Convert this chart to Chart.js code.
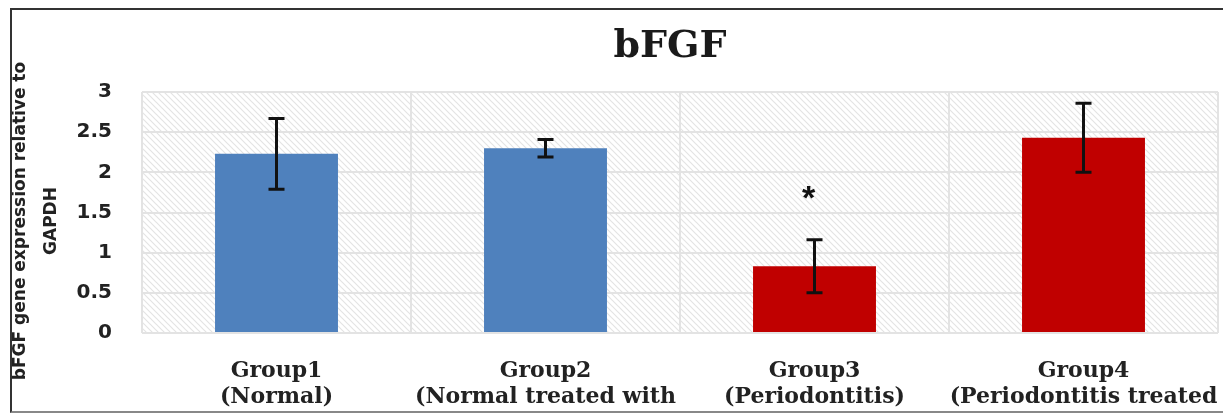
<!DOCTYPE html>
<html>
<head>
<meta charset="utf-8">
<script src="https://cdn.jsdelivr.net/npm/chart.js@4.4.1/dist/chart.umd.min.js"></script>
<style>
  html, body { margin: 0; padding: 0; background: #fff; overflow: hidden; }
  #wrap { position: absolute; left: 0; top: 0; width: 1223px; height: 413px; }
  #frame { position: absolute; left: 10px; top: 8px; width: 1300px; height: 401px;
           border-left: 2px solid #333; border-top: 2px solid #333; border-bottom: 2px solid #888;
           pointer-events: none; }
</style>
</head>
<body>
<div id="wrap"><canvas id="bfgfChart" width="1223" height="413"></canvas></div>
<div id="frame"></div>
<script>
const categories = [
    ['Group1', '(Normal)'],
    ['Group2', '(Normal treated with'],
    ['Group3', '(Periodontitis)'],
    ['Group4', '(Periodontitis treated']
];
const means = [2.23, 2.30, 0.83, 2.43];
const errors = [0.44, 0.11, 0.33, 0.43];
const barColors = ['#4f81bd', '#4f81bd', '#c00000', '#c00000'];
const markers = ['', '', '*', ''];
const markerValues = [null, null, 1.74, null];
const chartTitle = 'bFGF';
const yTitle = ['bFGF gene expression relative to', 'GAPDH'];

// hatched background like the original
function makePattern(ctx) {
    const p = document.createElement('canvas');
    p.width = 6; p.height = 6;
    const pc = p.getContext('2d');
    pc.fillStyle = '#ffffff';
    pc.fillRect(0, 0, 6, 6);
    pc.strokeStyle = '#e4e4e4';
    pc.lineWidth = 1.2;
    pc.beginPath();
    pc.moveTo(0, 0); pc.lineTo(6, 6);
    pc.moveTo(-3, 3); pc.lineTo(3, 9);
    pc.moveTo(3, -3); pc.lineTo(9, 3);
    pc.stroke();
    return ctx.createPattern(p, 'repeat');
}

const extras = {
    id: 'extras',
    beforeDraw(chart) {
        const ctx = chart.ctx;
        const a = chart.chartArea;
        ctx.save();
        ctx.fillStyle = makePattern(ctx);
        ctx.fillRect(a.left, a.top, a.right - a.left, a.bottom - a.top);
        ctx.restore();
    },
    afterDatasetsDraw(chart) {
        const ctx = chart.ctx;
        const x = chart.scales.x;
        const y = chart.scales.y;
        ctx.save();
        ctx.strokeStyle = '#111';
        ctx.lineWidth = 3;
        means.forEach((m, i) => {
            const cx = x.getPixelForValue(i);
            const top = y.getPixelForValue(m + errors[i]);
            const bot = y.getPixelForValue(m - errors[i]);
            ctx.beginPath();
            ctx.moveTo(cx, top); ctx.lineTo(cx, bot);
            ctx.moveTo(cx - 8, top); ctx.lineTo(cx + 8, top);
            ctx.moveTo(cx - 8, bot); ctx.lineTo(cx + 8, bot);
            ctx.stroke();
        });
        // significance marks
        ctx.fillStyle = '#111';
        ctx.font = 'bold 34px "Liberation Sans", Arial, sans-serif';
        ctx.textAlign = 'center';
        ctx.textBaseline = 'middle';
        markers.forEach((s, i) => {
            if (!s) return;
            ctx.fillText(s, x.getPixelForValue(i) - 6, y.getPixelForValue(markerValues[i]) + 6);
        });
        ctx.restore();
    },
    afterDraw(chart) {
        const ctx = chart.ctx;
        ctx.save();
        // title
        ctx.fillStyle = '#1a1a1a';
        ctx.font = 'bold 38px "DejaVu Serif", serif';
        ctx.textAlign = 'center';
        ctx.textBaseline = 'alphabetic';
        ctx.fillText(chartTitle, 670, 57);
        // y axis title, two rotated lines
        ctx.fillStyle = '#222';
        ctx.font = 'bold 17px "DejaVu Sans", sans-serif';
        ctx.textBaseline = 'middle';
        [21, 52].forEach((lx, k) => {
            ctx.save();
            ctx.translate(lx, 221);
            ctx.rotate(-Math.PI / 2);
            ctx.fillText(yTitle[k], 0, 0);
            ctx.restore();
        });
        ctx.restore();
    }
};

const ctx = document.getElementById('bfgfChart').getContext('2d');
const chart = new Chart(ctx, {
    type: 'bar',
    data: {
        labels: categories,
        datasets: [{
            data: means,
            backgroundColor: barColors,
            borderWidth: 0,
            barPercentage: 0.457,
            categoryPercentage: 1.0
        }]
    },
    options: {
        responsive: false,
        animation: false,
        layout: { padding: { left: 14, right: 5, top: 92, bottom: 2 } },
        plugins: {
            legend: { display: false },
            title: { display: false },
            tooltip: { enabled: false }
        },
        scales: {
            x: {
                grid: { offset: true, color: '#e3e3e3', lineWidth: 2, drawTicks: false },
                border: { display: false },
                ticks: {
                    color: '#222',
                    padding: 25,
                    maxRotation: 0,
                    autoSkip: false,
                    font: { family: '"DejaVu Serif", serif', size: 22, weight: 'bold', lineHeight: 1.18 }
                },
                afterFit(scale) {
                    scale.height = 78;
                    scale.paddingLeft = 0;
                    scale.paddingRight = 0;
                }
            },
            y: {
                min: 0,
                max: 3,
                grid: { color: '#e3e3e3', lineWidth: 2, drawTicks: false },
                border: { display: false },
                ticks: {
                    stepSize: 0.5,
                    color: '#222',
                    padding: 30,
                    callback: (v) => String(v),
                    font: { family: '"DejaVu Sans", sans-serif', size: 20, weight: 'bold' }
                },
                afterFit(scale) {
                    scale.width = 128;
                    scale.paddingTop = 0;
                    scale.paddingBottom = 0;
                }
            }
        }
    },
    plugins: [extras]
});
</script>
</body>
</html>
